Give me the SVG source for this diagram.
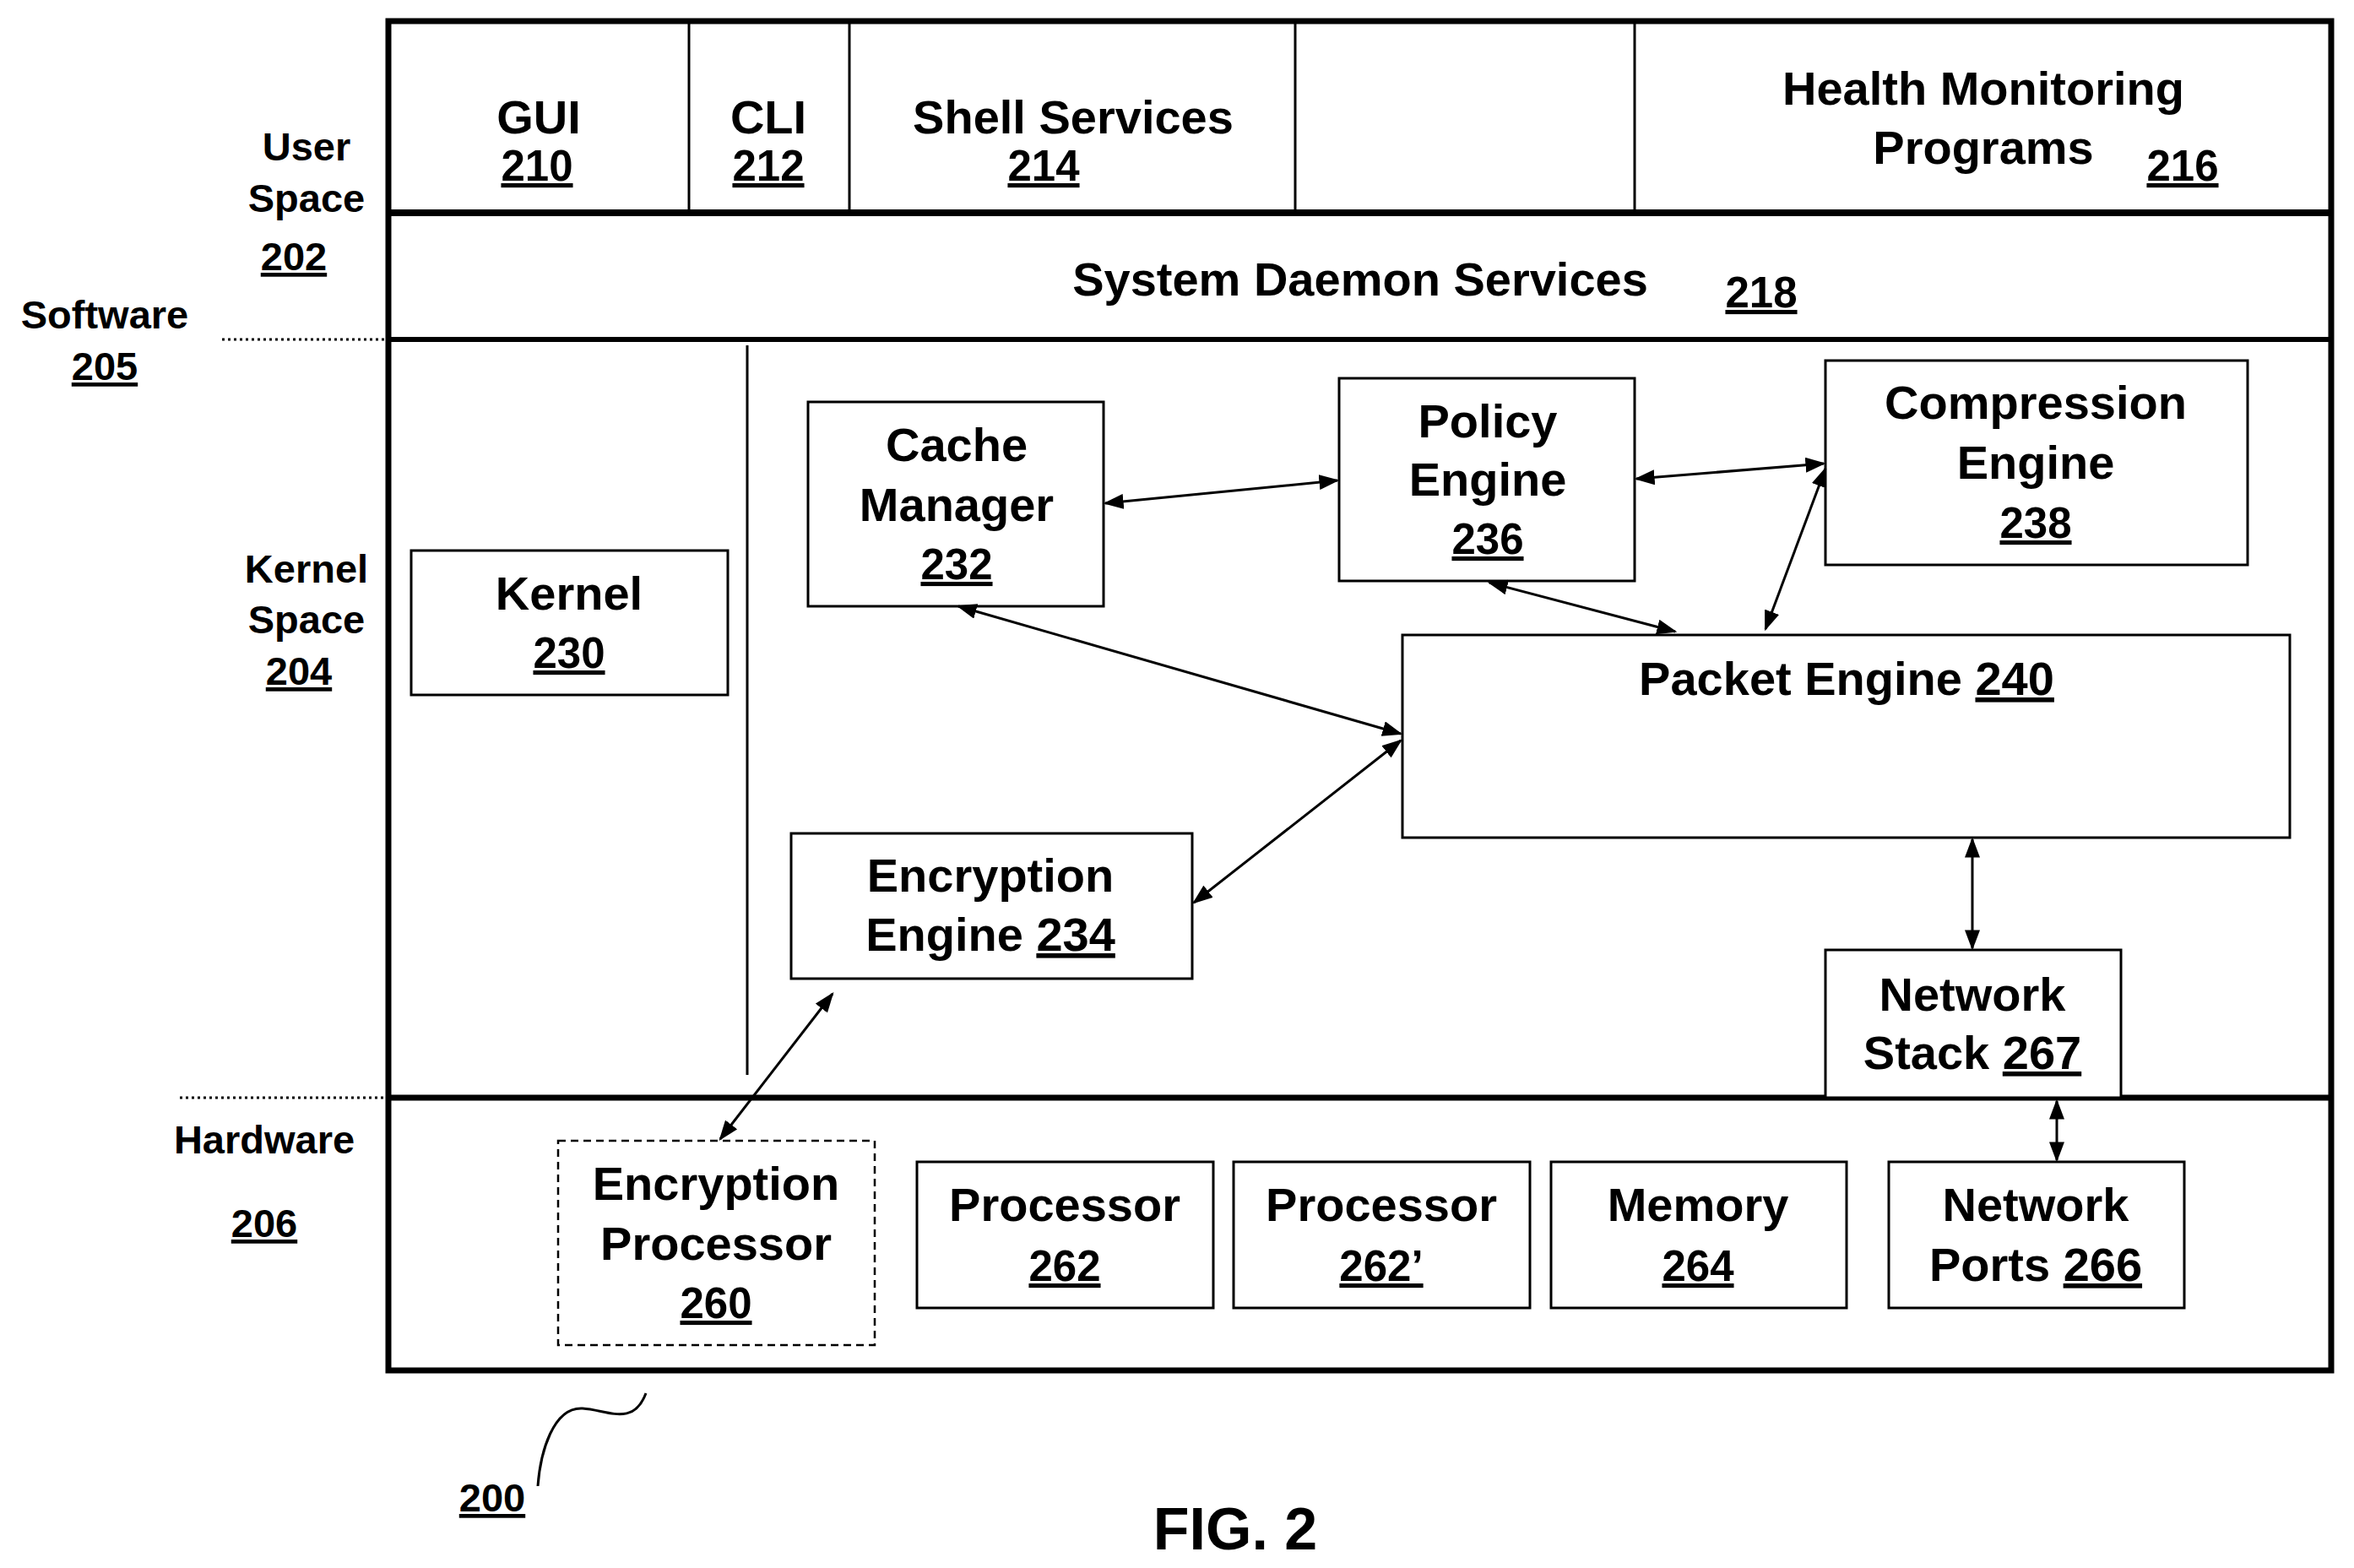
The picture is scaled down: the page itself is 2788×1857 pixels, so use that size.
<svg xmlns="http://www.w3.org/2000/svg" width="2788" height="1857" viewBox="0 0 2788 1857">
<defs>
<marker id="ah" viewBox="0 0 10 10" refX="9" refY="5" markerWidth="24" markerHeight="18" orient="auto-start-reverse" markerUnits="userSpaceOnUse" preserveAspectRatio="none"><path d="M0,0 L10,5 L0,10 z" fill="#000"/></marker>
<style>
text{font-family:"Liberation Sans",Arial,sans-serif;font-weight:bold;fill:#000;text-anchor:middle}
.t{font-size:56px}
.n{font-size:51px;text-decoration:underline}
.l{font-size:47px}
.ln{font-size:47px;text-decoration:underline}
.b{fill:#fff;stroke:#000;stroke-width:3}
.c{stroke:#000;stroke-width:3;fill:none}
</style>
</defs>
<rect width="2788" height="1857" fill="#fff"/>
<g id="frame">
<rect x="460" y="25" width="2301" height="1598" fill="none" stroke="#000" stroke-width="7"/>
<line x1="460" y1="252" x2="2761" y2="252" stroke="#000" stroke-width="8"/>
<line x1="460" y1="402" x2="2761" y2="402" stroke="#000" stroke-width="6"/>
<line x1="460" y1="1300" x2="2761" y2="1300" stroke="#000" stroke-width="7"/>
<line x1="816" y1="25" x2="816" y2="249" stroke="#000" stroke-width="3"/>
<line x1="1006" y1="25" x2="1006" y2="249" stroke="#000" stroke-width="3"/>
<line x1="1534" y1="25" x2="1534" y2="249" stroke="#000" stroke-width="3"/>
<line x1="1936" y1="25" x2="1936" y2="249" stroke="#000" stroke-width="3"/>
<line x1="885" y1="409" x2="885" y2="1273" stroke="#000" stroke-width="3"/>
<line x1="263" y1="402" x2="560" y2="402" stroke="#000" stroke-width="3" stroke-dasharray="3,4"/>
<line x1="213" y1="1300" x2="459" y2="1300" stroke="#000" stroke-width="3" stroke-dasharray="3,4"/>
</g>
<g id="toprow">
<text class="t" x="638" y="158">GUI</text><text class="n" x="636" y="214">210</text>
<text class="t" x="910" y="158">CLI</text><text class="n" x="910" y="214">212</text>
<text class="t" x="1271" y="158">Shell Services</text><text class="n" x="1236" y="214">214</text>
<text class="t" x="2349" y="124">Health Monitoring</text><text class="t" x="2349" y="194">Programs</text><text class="n" x="2585" y="214">216</text>
<text class="t" x="1611" y="350">System Daemon Services</text><text class="n" x="2086" y="364">218</text>
</g>
<g id="labels">
<text class="l" x="363" y="190">User</text><text class="l" x="363" y="251">Space</text><text class="ln" x="348" y="320">202</text>
<text class="l" x="124" y="389">Software</text><text class="ln" x="124" y="450">205</text>
<text class="l" x="363" y="690">Kernel</text><text class="l" x="363" y="750">Space</text><text class="ln" x="354" y="811">204</text>
<text class="l" x="313" y="1366">Hardware</text><text class="ln" x="313" y="1465">206</text>
</g>
<g id="n230"><rect class="b" x="487" y="652" width="375" height="171"/><text class="t" x="674" y="722">Kernel</text><text class="n" x="674" y="791">230</text></g>
<g id="n232"><rect class="b" x="957" y="476" width="350" height="242"/><text class="t" x="1133" y="546">Cache</text><text class="t" x="1133" y="617">Manager</text><text class="n" x="1133" y="686">232</text></g>
<g id="n236"><rect class="b" x="1586" y="448" width="350" height="240"/><text class="t" x="1762" y="518">Policy</text><text class="t" x="1762" y="587">Engine</text><text class="n" x="1762" y="656">236</text></g>
<g id="n238"><rect class="b" x="2162" y="427" width="500" height="242"/><text class="t" x="2411" y="496">Compression</text><text class="t" x="2411" y="567">Engine</text><text class="n" x="2411" y="637">238</text></g>
<g id="n240"><rect class="b" x="1661" y="752" width="1051" height="240"/><text class="t" x="2187" y="823">Packet Engine <tspan text-decoration="underline">240</tspan></text></g>
<g id="n234"><rect class="b" x="937" y="987" width="475" height="172"/><text class="t" x="1173" y="1056">Encryption</text><text class="t" x="1173" y="1126">Engine <tspan text-decoration="underline">234</tspan></text></g>
<g id="n267"><rect class="b" x="2162" y="1125" width="350" height="175"/><text class="t" x="2336" y="1197">Network</text><text class="t" x="2336" y="1266">Stack <tspan text-decoration="underline">267</tspan></text></g>
<g id="n260"><rect x="661" y="1351" width="375" height="242" fill="#fff" stroke="#000" stroke-width="2.5" stroke-dasharray="9,6"/><text class="t" x="848" y="1421">Encryption</text><text class="t" x="848" y="1492">Processor</text><text class="n" x="848" y="1561">260</text></g>
<g id="n262"><rect class="b" x="1086" y="1376" width="351" height="173"/><text class="t" x="1261" y="1446">Processor</text><text class="n" x="1261" y="1517">262</text></g>
<g id="n262b"><rect class="b" x="1461" y="1376" width="351" height="173"/><text class="t" x="1636" y="1446">Processor</text><text class="n" x="1636" y="1517">262’</text></g>
<g id="n264"><rect class="b" x="1837" y="1376" width="350" height="173"/><text class="t" x="2011" y="1446">Memory</text><text class="n" x="2011" y="1517">264</text></g>
<g id="n266"><rect class="b" x="2237" y="1376" width="350" height="173"/><text class="t" x="2411" y="1446">Network</text><text class="t" x="2411" y="1517">Ports <tspan text-decoration="underline">266</tspan></text></g>
<g id="connectors">
<line class="c" x1="1309" y1="596" x2="1584" y2="569" marker-start="url(#ah)" marker-end="url(#ah)"/>
<line class="c" x1="1938" y1="567" x2="2160" y2="549" marker-start="url(#ah)" marker-end="url(#ah)"/>
<line class="c" x1="2162" y1="555" x2="2091" y2="745" marker-start="url(#ah)" marker-end="url(#ah)"/>
<line class="c" x1="1764" y1="690" x2="1984" y2="748" marker-start="url(#ah)" marker-end="url(#ah)"/>
<line class="c" x1="1135" y1="718" x2="1659" y2="869" marker-start="url(#ah)" marker-end="url(#ah)"/>
<line class="c" x1="1414" y1="1069" x2="1659" y2="877" marker-start="url(#ah)" marker-end="url(#ah)"/>
<line class="c" x1="2336" y1="994" x2="2336" y2="1123" marker-start="url(#ah)" marker-end="url(#ah)"/>
<line class="c" x1="2436" y1="1304" x2="2436" y2="1374" marker-start="url(#ah)" marker-end="url(#ah)"/>
<line class="c" x1="986" y1="1177" x2="853" y2="1349" marker-start="url(#ah)" marker-end="url(#ah)"/>
<path class="c" d="M765,1650 C750,1690 720,1670 690,1668 C655,1666 640,1720 637,1760" stroke-width="2"/>
</g>
<text class="ln" x="583" y="1790">200</text>
<text x="1463" y="1835" style="font-size:70px">FIG. 2</text>
</svg>
